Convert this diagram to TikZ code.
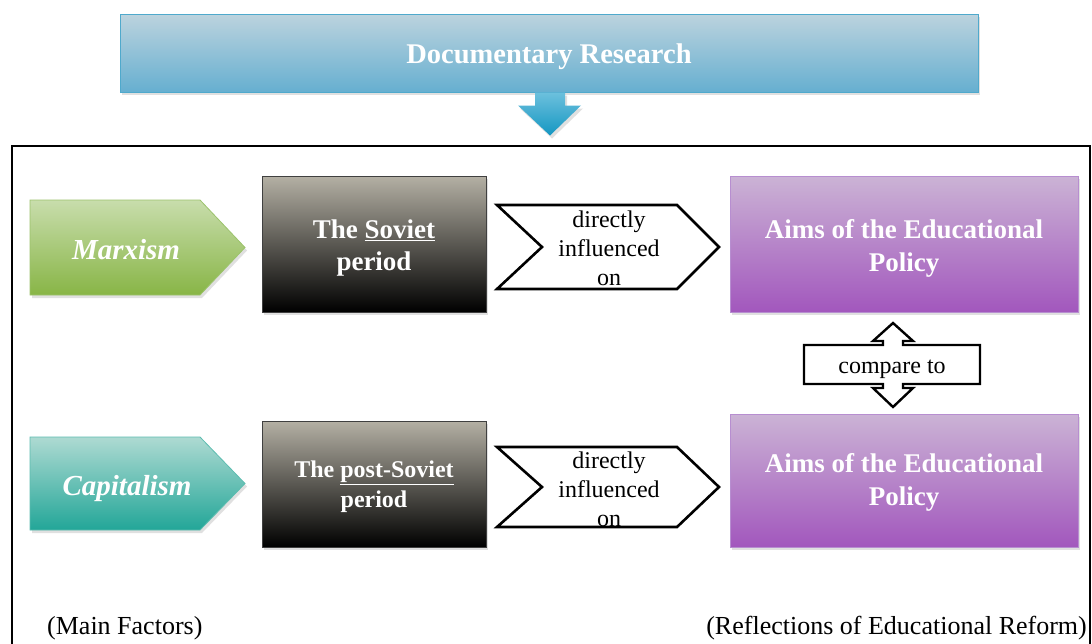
\documentclass[tikz,border=0pt]{standalone}
\usepackage{fontspec}
\setmainfont{Liberation Serif}
\usetikzlibrary{calc,shadows}
\definecolor{docTop}{HTML}{BCD3DE}
\definecolor{docBot}{HTML}{66AFD0}
\definecolor{docLine}{HTML}{4FA9CC}
\definecolor{arrTop}{HTML}{6CC0DD}
\definecolor{arrBot}{HTML}{1597C2}
\definecolor{grnTop}{HTML}{C8DDAC}
\definecolor{grnBot}{HTML}{88B546}
\definecolor{grnLine}{HTML}{9CC36C}
\definecolor{tealTop}{HTML}{AEDAD2}
\definecolor{tealBot}{HTML}{22A698}
\definecolor{tealLine}{HTML}{5DBDB0}
\definecolor{grayTop}{HTML}{B4B0A4}
\definecolor{grayBot}{HTML}{000000}
\definecolor{purTop}{HTML}{CBB3D5}
\definecolor{purBot}{HTML}{A257BD}
\definecolor{purLine}{HTML}{B78ED0}
\tikzset{
  softshadow/.style={drop shadow={shadow xshift=2pt, shadow yshift=-3pt, opacity=0.2, fill=black!60}},
  docbox/.style={draw=docLine, line width=1pt, top color=docTop, bottom color=docBot, softshadow,
    text=white, font=\fontsize{28.5}{32}\selectfont\bfseries, inner sep=0pt},
  periodbox/.style={draw=black!75, line width=0.8pt, top color=grayTop, bottom color=grayBot, softshadow,
    text=white, align=center, inner sep=0pt},
  aimsbox/.style={draw=purLine, line width=0.8pt, top color=purTop, bottom color=purBot, softshadow,
    text=white, align=center, inner sep=0pt, font=\fontsize{27}{33}\selectfont\bfseries},
  factorshape/.style={line width=0.8pt, softshadow},
  factortext/.style={text=white, font=\fontsize{29}{33}\selectfont\bfseries\itshape},
  chevshape/.style={draw=black, line width=2.6pt, fill=white, line join=miter},
  chevtext/.style={align=center, font=\fontsize{24}{29}\selectfont, text=black, inner sep=0pt},
  foottext/.style={font=\fontsize{26}{29}\selectfont, text=black, inner sep=0pt}
}
\begin{document}
\begin{tikzpicture}[x=1pt,y=-1pt]
\useasboundingbox (0,0) rectangle (1092,643);
\fill[white] (0,0) rectangle (1092,643);

% top box and arrow
\node[docbox, minimum width=858pt, minimum height=78pt] (doc) at (549,53) {};
\node[text=white, font=\fontsize{28.5}{32}\selectfont\bfseries, inner sep=0pt] (doctext) at (549,57) {Documentary Research};
\coordinate (tip) at ($(doc.south)+(1,43)$);
\path[top color=arrTop, bottom color=arrBot, softshadow]
  ($(doc.south)+(-14,0)$) -- ++(0,13) -- ++(-17,0) -- (tip) -- ($(doc.south)+(32,13)$)
  -- ++(-16,0) -- ($(doc.south)+(16,0)$) -- cycle;

% frame
\draw[line width=2.5pt] (12,670) -- (12,146) -- (1090,146) -- (1090,670);

% row 1
\path[factorshape, draw=grnLine, top color=grnTop, bottom color=grnBot]
  (30,200) -- (200,200) -- (245,247.5) -- (200,295) -- (30,295) -- cycle;
\node[factortext] (marx) at (126,250) {Marxism};

\node[periodbox, minimum width=224pt, minimum height=136pt] (sov) at (374,244) {};
\node[text=white, align=center, inner sep=0pt, font=\fontsize{27}{32}\selectfont\bfseries] (sovtext) at (374,248)
  {The \underline{Soviet}\\period};

\path[chevshape] (497,205) -- (677,205) -- (719,247) -- (677,289) -- (497,289) -- (542,247) -- cycle;
\node[chevtext] (inf1) at (609,248) {directly\\influenced\\on};

\node[aimsbox, minimum width=348pt, minimum height=136pt] (aims1) at (904,244) {};
\node[text=white, align=center, inner sep=0pt, font=\fontsize{27}{33}\selectfont\bfseries] (aims1text) at (904,248)
  {Aims of the Educational\\Policy};

% compare to
\path[chevshape, line width=2.4pt]
  (804,345) -- (883,345) -- (883,341) -- (873,341) -- (893,323) -- (913,341) -- (903,341) -- (903,345)
  -- (980,345) -- (980,384) -- (903,384) -- (903,388) -- (913,388) -- (893,407) -- (873,388)
  -- (883,388) -- (883,384) -- (804,384) -- cycle;
\node[chevtext] (cmp) at (892,369) {compare to};

% row 2
\path[factorshape, draw=tealLine, top color=tealTop, bottom color=tealBot]
  (30,437) -- (200,437) -- (245,483.5) -- (200,530) -- (30,530) -- cycle;
\node[factortext] (cap) at (127,489) {Capitalism};

\node[periodbox, minimum width=224pt, minimum height=126pt] (post) at (374,484) {};
\node[text=white, align=center, inner sep=0pt, font=\fontsize{24}{30}\selectfont\bfseries] (posttext) at (374,487)
  {The \underline{post-Soviet}\\period};

\path[chevshape] (497,447) -- (677,447) -- (719,487) -- (677,527) -- (497,527) -- (542,487) -- cycle;
\node[chevtext] (inf2) at (609,489) {directly\\influenced\\on};

\node[aimsbox, minimum width=348pt, minimum height=133pt] (aims2) at (904,480.5) {};
\node[text=white, align=center, inner sep=0pt, font=\fontsize{27}{33}\selectfont\bfseries] (aims2text) at (904,482.5)
  {Aims of the Educational\\Policy};

% footers
\node[foottext, anchor=west] (mf) at (47,628) {(Main Factors)};
\node[foottext, anchor=east] (rf) at (1087,628) {(Reflections of Educational Reform)};
\end{tikzpicture}
\end{document}
